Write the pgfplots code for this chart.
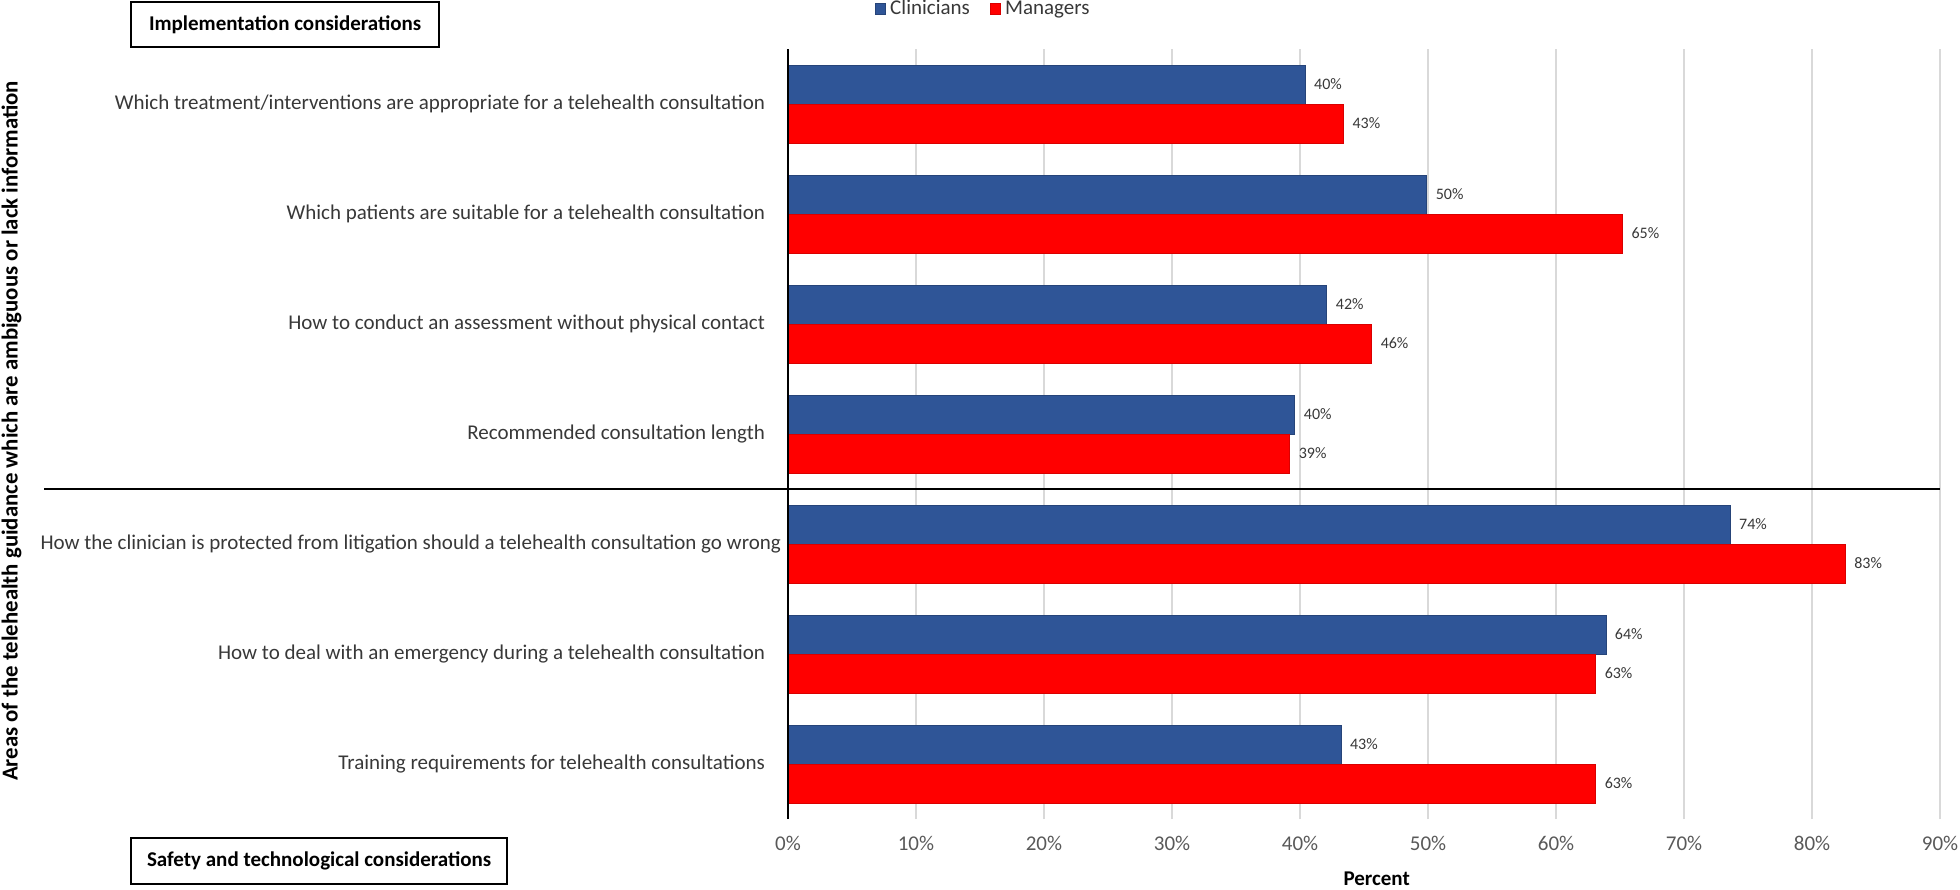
\documentclass[border=0pt]{standalone}
\usepackage{pgfplots}
\pgfplotsset{compat=1.18}
\usepackage{fontspec}
\setmainfont{Carlito}
\definecolor{cblue}{RGB}{47,85,151}
\definecolor{cred}{RGB}{255,0,0}
\definecolor{txt}{RGB}{56,56,56}
\definecolor{tick}{RGB}{89,89,89}
\definecolor{gridc}{RGB}{217,217,217}
\newcommand\fs{\fontsize{10.5pt}{12.5pt}\selectfont}
\newcommand\fy{\fontsize{11.4pt}{13.5pt}\selectfont}
\newcommand\fd{\fontsize{8pt}{9.6pt}\selectfont}
\begin{document}
\begin{tikzpicture}
\useasboundingbox (0,0) rectangle (980pt,444.5pt);
\begin{axis}[
  at={(394pt,35pt)}, anchor=south west,
  width=576pt, height=385pt, scale only axis,
  xbar, bar width=19.5pt,
  xmin=0, xmax=90, ymin=-0.5, ymax=6.5,
  xtick={0,10,...,90},
  /pgf/number format/assume math mode=true,
  xticklabel={\pgfmathprintnumber{\tick}\%},
  xticklabel style={font=\fs, color=tick, yshift=-5pt},
  ytick={0,...,6},
  yticklabels={Training requirements for telehealth consultations,
    How to deal with an emergency during a telehealth consultation,
    How the clinician is protected from litigation should a telehealth consultation go wrong\hspace*{-8pt},
    Recommended consultation length,
    How to conduct an assessment without physical contact,
    Which patients are suitable for a telehealth consultation,
    Which treatment/interventions are appropriate for a telehealth consultation},
  yticklabel style={font=\fs, color=txt, xshift=-8pt},
  major tick length=0pt,
  axis line style={draw=none},
  xmajorgrids, grid style={gridc, line width=0.6pt},
  xlabel={\textbf{Percent}},
  x label style={at={(axis description cs:0.511,0)}, anchor=center, yshift=-30pt, font=\fs},
  ylabel={\textbf{Areas of the telehealth guidance which are ambiguous or lack information}},
  y label style={at={(axis description cs:-0.674,0.504)}, anchor=center, font=\fy},
  nodes near coords={\pgfmathprintnumber[fixed,precision=0]{\pgfplotspointmeta}\%},
  point meta=x,
  nodes near coords style={anchor=west, font=\fd, color=txt, xshift=1pt},
  legend style={at={(axis description cs:0.07,1.052)}, anchor=west, draw=none, fill=none,
    legend columns=2, font=\fs, text=txt,
    /tikz/every even column/.append style={column sep=8pt}},
  legend image code/.code={\fill[#1] (0pt,-2.6pt) rectangle (5.2pt,2.6pt);},
  clip=false,
]
\addplot[fill=cblue, draw=cblue!80!black, line width=0.4pt, bar shift=9.75pt]
  coordinates {(43.2,0) (63.9,1) (73.6,2) (39.6,3) (42.1,4) (49.9,5) (40.4,6)};
\addplot[fill=cred, draw=cred!85!black, line width=0.4pt, bar shift=-9.75pt]
  coordinates {(63.1,0) (63.1,1) (82.6,2) (39.2,3) (45.6,4) (65.2,5) (43.4,6)};
\legend{Clinicians, Managers}
\end{axis}
\draw[line width=1pt] (394pt,35pt) -- (394pt,420pt);
\draw[line width=1pt] (22pt,200pt) -- (970pt,200pt);
\node[draw, line width=1pt, font=\fs\bfseries, inner xsep=9pt, minimum height=22.5pt, anchor=west] at (65pt,432pt) {Implementation considerations};
\node[draw, line width=1pt, font=\fs\bfseries, inner xsep=8pt, minimum height=22.5pt, anchor=west] at (65pt,14pt) {Safety and technological considerations};
\end{tikzpicture}
\end{document}
